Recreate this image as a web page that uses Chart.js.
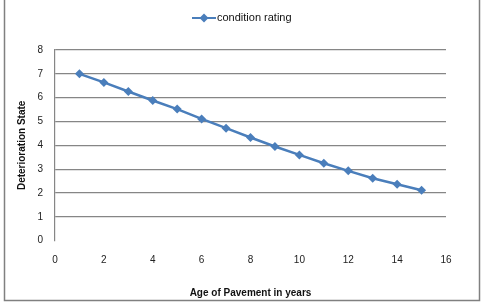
<!DOCTYPE html>
<html>
<head>
<meta charset="utf-8">
<script src="https://cdn.jsdelivr.net/npm/chart.js@4"></script>
<style>
  html, body { margin: 0; padding: 0; background: #fff; }
  #wrap { position: relative; width: 484px; height: 302px; }
</style>
</head>
<body>
<div id="wrap"><canvas id="mycanvas" width="484" height="302"></canvas></div>
<script>
// values
var ages = [1, 2, 3, 4, 5, 6, 7, 8, 9, 10, 11, 12, 13, 14, 15];
var rating = [7.0, 6.64, 6.26, 5.88, 5.52, 5.11, 4.72, 4.33, 3.95, 3.60, 3.25, 2.93, 2.62, 2.37, 2.12];
var seriesName = 'condition rating';
var xTitle = 'Age of Pavement in years';
var yTitle = 'Deterioration State';

var blue = '#4a7ebb';
var grey = '#868686';

var points = [];
for (var i in ages) {
	points.push({x: ages[i], y: rating[i]});
}

// legend drawn like the Excel one: short line with a diamond, then the name
var excelLegend = {
	id: 'excelLegend',
	afterDraw: function(chart) {
		var ctx = chart.ctx;
		var y = 18;
		ctx.save();
		ctx.strokeStyle = blue;
		ctx.lineWidth = 2;
		ctx.beginPath();
		ctx.moveTo(192, y);
		ctx.lineTo(216, y);
		ctx.stroke();
		ctx.fillStyle = blue;
		ctx.beginPath();
		ctx.moveTo(204, y - 4.5);
		ctx.lineTo(208.5, y);
		ctx.lineTo(204, y + 4.5);
		ctx.lineTo(199.5, y);
		ctx.closePath();
		ctx.fill();
		ctx.fillStyle = '#111';
		ctx.font = '11px "Liberation Sans", Arial, sans-serif';
		ctx.textAlign = 'left';
		ctx.textBaseline = 'middle';
		ctx.fillText(seriesName, 217, y);
		ctx.restore();
	}
};

// the outer frame of the chart
var frame = {
	id: 'frame',
	beforeDraw: function(chart) {
		var ctx = chart.ctx;
		ctx.save();
		ctx.strokeStyle = '#808080';
		ctx.lineWidth = 1.5;
		ctx.strokeRect(4.5, -2, 475, 302.5);
		ctx.restore();
	}
};

var ctx = document.getElementById('mycanvas');

var lineGraph = new Chart(ctx, {
	type: 'line',
	data: {
		datasets: [{
			label: seriesName,
			data: points,
			borderColor: blue,
			backgroundColor: blue,
			borderWidth: 2.5,
			pointStyle: 'rectRot',
			pointRadius: 4.5,
			pointBorderWidth: 0,
			tension: 0
		}]
	},
	options: {
		responsive: false,
		animation: false,
		layout: {padding: {left: 5, right: 38, top: 50, bottom: 0}},
		plugins: {
			legend: {display: false},
			tooltip: {enabled: false}
		},
		scales: {
			x: {
				type: 'linear',
				min: 0,
				max: 16,
				ticks: {
					stepSize: 2,
					padding: 13.5,
					color: '#222',
					font: {family: '"Liberation Sans", Arial, sans-serif', size: 10}
				},
				grid: {display: false, drawTicks: false},
				border: {display: false},
				title: {
					display: true,
					text: xTitle,
					color: '#111',
					padding: {top: 0, bottom: 3},
					font: {family: '"Liberation Sans", Arial, sans-serif', size: 10, weight: 'bold'}
				},
				afterFit: function(scale) { scale.height = 61.3; }
			},
			y: {
				min: 0,
				max: 8,
				ticks: {
					stepSize: 1,
					padding: 12,
					color: '#222',
					font: {family: '"Liberation Sans", Arial, sans-serif', size: 10}
				},
				grid: {
					drawTicks: false,
					color: function(c) { return c.tick.value === 0 ? 'rgba(0,0,0,0)' : grey; },
					lineWidth: 1.2
				},
				border: {display: true, color: grey, width: 1.2},
				title: {
					display: true,
					text: yTitle,
					color: '#111',
					padding: {top: 11.6, bottom: 0},
					font: {family: '"Liberation Sans", Arial, sans-serif', size: 10, weight: 'bold'}
				},
				afterFit: function(scale) { scale.width = 50; }
			}
		}
	},
	plugins: [frame, excelLegend]
});
</script>
</body>
</html>
